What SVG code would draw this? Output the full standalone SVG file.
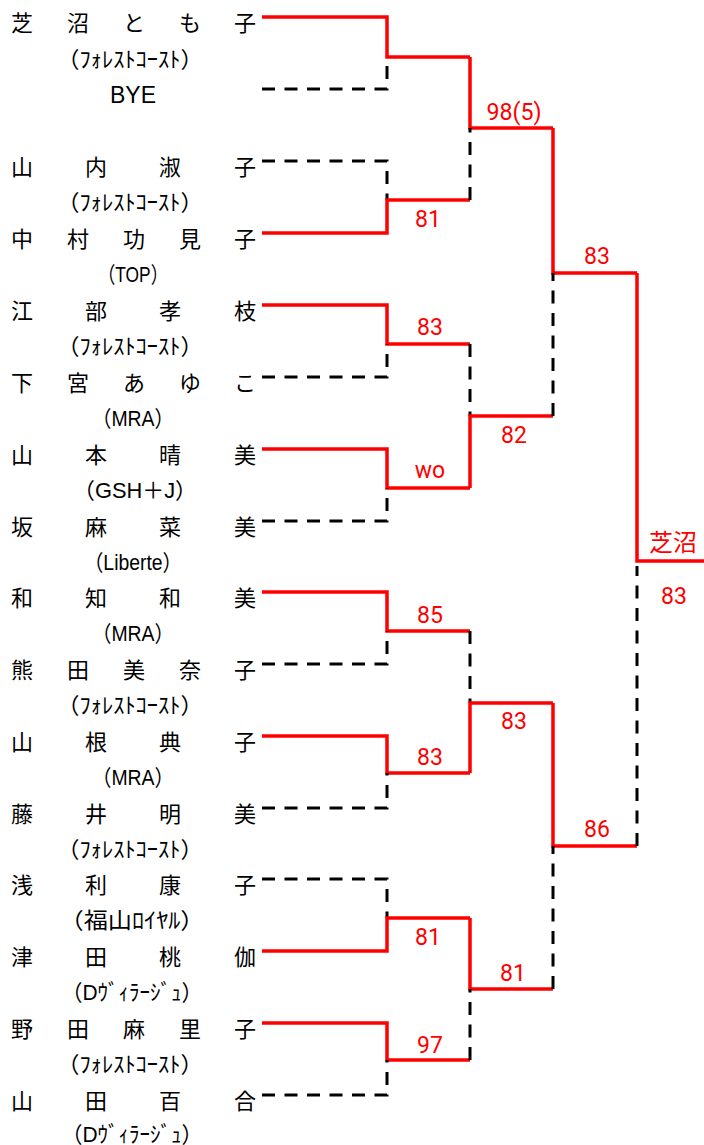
<svg xmlns="http://www.w3.org/2000/svg" width="704" height="1145" viewBox="0 0 704 1145">
<style>
.nm{font-family:"Noto Sans CJK JP","Noto Sans CJK SC",sans-serif;font-size:22px;fill:#000;text-anchor:middle}
.tm{font-family:"Liberation Sans","Noto Sans CJK JP",sans-serif;font-size:22px;fill:#000;text-anchor:middle}
.bye{font-family:"Liberation Sans",sans-serif;font-size:23px;fill:#000;text-anchor:middle}
.sc{font-family:Roboto,"Liberation Sans",sans-serif;font-size:23px;fill:#ff0000;text-anchor:middle}
.win{font-family:"Noto Sans CJK JP",sans-serif;font-size:24px;fill:#ff0000;text-anchor:middle}
.r{fill:none;stroke:#ff0000;stroke-width:3.5}
.d{fill:none;stroke:#000;stroke-width:3;stroke-dasharray:13 9.5}
</style>
<rect width="704" height="1145" fill="#fff"/>
<g id="p1"><text class="nm" x="22 78 134 190 245" y="31">芝沼とも子</text><text class="tm" x="130" y="67" textLength="146" lengthAdjust="spacingAndGlyphs">（ﾌｫﾚｽﾄｺｰｽﾄ）</text></g>
<g id="p2"><text class="bye" x="133" y="103">BYE</text></g>
<g id="p3"><text class="nm" x="22 96 170 245" y="175">山内淑子</text><text class="tm" x="130" y="210" textLength="146" lengthAdjust="spacingAndGlyphs">（ﾌｫﾚｽﾄｺｰｽﾄ）</text></g>
<g id="p4"><text class="nm" x="22 78 134 190 245" y="247">中村功見子</text><text class="tm" x="133" y="282" textLength="70" lengthAdjust="spacingAndGlyphs">（TOP）</text></g>
<g id="p5"><text class="nm" x="22 96 170 245" y="319">江部孝枝</text><text class="tm" x="130" y="354" textLength="146" lengthAdjust="spacingAndGlyphs">（ﾌｫﾚｽﾄｺｰｽﾄ）</text></g>
<g id="p6"><text class="nm" x="22 78 134 190 245" y="391">下宮あゆこ</text><text class="tm" x="133" y="426" textLength="82" lengthAdjust="spacingAndGlyphs">（MRA）</text></g>
<g id="p7"><text class="nm" x="22 96 170 245" y="463">山本晴美</text><text class="tm" x="135" y="498" textLength="124" lengthAdjust="spacingAndGlyphs">（GSH＋J）</text></g>
<g id="p8"><text class="nm" x="22 96 170 245" y="535">坂麻菜美</text><text class="tm" x="133" y="570" textLength="98" lengthAdjust="spacingAndGlyphs">（Liberte）</text></g>
<g id="p9"><text class="nm" x="22 96 170 245" y="606">和知和美</text><text class="tm" x="133" y="641" textLength="82" lengthAdjust="spacingAndGlyphs">（MRA）</text></g>
<g id="p10"><text class="nm" x="22 78 134 190 245" y="678">熊田美奈子</text><text class="tm" x="130" y="713" textLength="146" lengthAdjust="spacingAndGlyphs">（ﾌｫﾚｽﾄｺｰｽﾄ）</text></g>
<g id="p11"><text class="nm" x="22 96 170 245" y="750">山根典子</text><text class="tm" x="133" y="785" textLength="82" lengthAdjust="spacingAndGlyphs">（MRA）</text></g>
<g id="p12"><text class="nm" x="22 96 170 245" y="822">藤井明美</text><text class="tm" x="130" y="857" textLength="146" lengthAdjust="spacingAndGlyphs">（ﾌｫﾚｽﾄｺｰｽﾄ）</text></g>
<g id="p13"><text class="nm" x="22 96 170 245" y="893">浅利康子</text><text class="tm" x="132" y="928" textLength="145" lengthAdjust="spacingAndGlyphs">（福山ﾛｲﾔﾙ）</text></g>
<g id="p14"><text class="nm" x="22 96 170 245" y="965">津田桃伽</text><text class="tm" x="132" y="1000" textLength="141" lengthAdjust="spacingAndGlyphs">（Dｳﾞｨﾗｰｼﾞｭ）</text></g>
<g id="p15"><text class="nm" x="22 78 134 190 245" y="1037">野田麻里子</text><text class="tm" x="130" y="1072" textLength="146" lengthAdjust="spacingAndGlyphs">（ﾌｫﾚｽﾄｺｰｽﾄ）</text></g>
<g id="p16"><text class="nm" x="22 96 170 245" y="1109">山田百合</text><text class="tm" x="132" y="1142" textLength="141" lengthAdjust="spacingAndGlyphs">（Dｳﾞｨﾗｰｼﾞｭ）</text></g>
<g id="connectors">
<path class="r" d="M262,17 H387 V57 H470"/><path class="d" d="M262,89 H387 V57"/>
<path class="d" d="M262,161 H387 V200"/><path class="r" d="M262,233 H387 V200 H470"/>
<path class="r" d="M262,305 H387 V344 H470"/><path class="d" d="M262,377 H387 V344"/>
<path class="r" d="M262,449 H387 V488 H470"/><path class="d" d="M262,521 H387 V488"/>
<path class="r" d="M262,592 H387 V631 H470"/><path class="d" d="M262,664 H387 V631"/>
<path class="r" d="M262,736 H387 V773 H470"/><path class="d" d="M262,808 H387 V773"/>
<path class="d" d="M262,879 H387 V918"/><path class="r" d="M262,951 H387 V918 H470"/>
<path class="r" d="M262,1023 H387 V1060 H470"/><path class="d" d="M262,1095 H387 V1060"/>
<path class="r" d="M470,57 V128 H553"/><path class="d" d="M470,200 V128"/>
<path class="d" d="M470,344 V416"/><path class="r" d="M470,488 V416 H553"/>
<path class="d" d="M470,631 V703"/><path class="r" d="M470,773 V703 H553"/>
<path class="r" d="M470,918 V989 H553"/><path class="d" d="M470,1060 V989"/>
<path class="r" d="M553,128 V273 H637"/><path class="d" d="M553,416 V273"/>
<path class="r" d="M553,703 V846 H637"/><path class="d" d="M553,989 V846"/>
<path class="r" d="M637,273 V561 H704"/><path class="d" d="M637,846 V566"/>
</g>
<g id="scores">
<text class="sc" x="514" y="120" textLength="55" lengthAdjust="spacingAndGlyphs">98(5)</text>
<text class="sc" x="428" y="227">81</text>
<text class="sc" x="597" y="264">83</text>
<text class="sc" x="430" y="335">83</text>
<text class="sc" x="430" y="478">wo</text>
<text class="sc" x="514" y="443">82</text>
<text class="win" x="673" y="551">芝沼</text>
<text class="sc" x="674" y="604">83</text>
<text class="sc" x="430" y="623">85</text>
<text class="sc" x="430" y="765">83</text>
<text class="sc" x="514" y="729">83</text>
<text class="sc" x="597" y="837">86</text>
<text class="sc" x="428" y="945">81</text>
<text class="sc" x="430" y="1053">97</text>
<text class="sc" x="513" y="981">81</text>
</g>
</svg>
